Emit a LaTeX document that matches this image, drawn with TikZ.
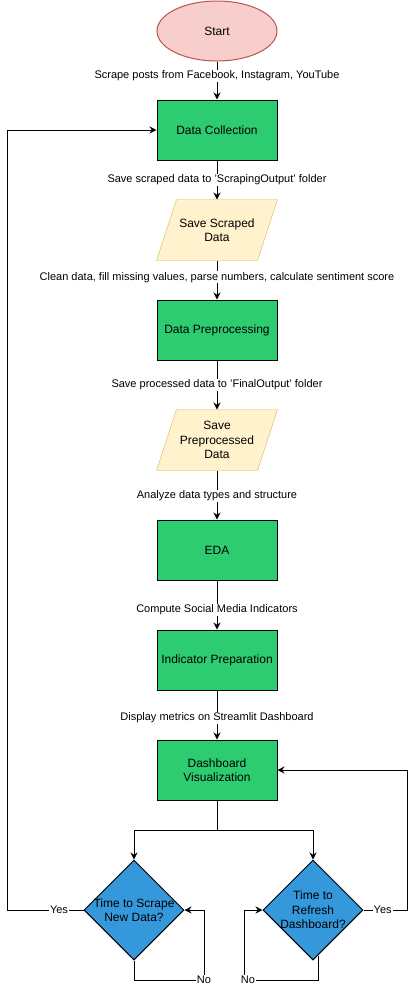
\documentclass[tikz,border=0pt]{standalone}
\usepackage{fontspec}
\setmainfont{Liberation Sans}
\usetikzlibrary{shapes.geometric,arrows.meta,backgrounds}
\definecolor{startfill}{HTML}{F8CECC}
\definecolor{startdraw}{HTML}{B85450}
\definecolor{procfill}{HTML}{2ECC71}
\definecolor{iofill}{HTML}{FFF2CC}
\definecolor{iodraw}{HTML}{D6B656}
\definecolor{decfill}{HTML}{3498DB}
\begin{document}
\begin{tikzpicture}[x=1pt,y=-1pt,
  font=\fontsize{12}{14.5}\selectfont,
  line width=1pt,
  proc/.style={rectangle, draw=black, fill=procfill, minimum width=120pt, minimum height=60pt, align=center, inner sep=2pt},
  iobox/.style={rectangle, minimum width=120pt, minimum height=60pt, align=center, inner sep=2pt},
  iopoly/.style={draw=iodraw, fill=iofill},
  dec/.style={diamond, draw=black, fill=decfill, minimum width=100pt, minimum height=100pt, inner sep=0pt, aspect=1},
  arr/.style={-{Stealth[length=7pt,width=7pt]}},
  lab/.style={fill=white, font=\fontsize{11}{13}\selectfont, inner sep=1pt}
]
\useasboundingbox (0,0) rectangle (416,989);

% nodes
\node[ellipse, draw=startdraw, fill=startfill, minimum width=120pt, minimum height=60pt] (start) at (217,31) {Start};
\node[proc] (dc) at (217,130) {Data Collection};
\node[iobox] (ssd) at (217,230) {Save Scraped\\Data};
\node[proc] (dp) at (217,330) {Data Preprocessing};
\node[iobox] (spd) at (217,440) {Save\\Preprocessed\\Data};
\node[proc] (eda) at (217,550) {EDA};
\node[proc] (ip) at (217,660) {Indicator Preparation};
\node[proc] (dv) at (217,770) {Dashboard\\Visualization};
\node[dec, label={[align=center]center:Time to Scrape\\New Data?}] (d1) at (134,910) {};
\node[dec, label={[align=center]center:Time to\\Refresh\\Dashboard?}] (d2) at (313,910) {};

% parallelograms behind text
\begin{scope}[on background layer]
  \draw[iopoly] (ssd.south west) -- ([xshift=-20pt]ssd.south east) -- (ssd.north east) -- ([xshift=20pt]ssd.north west) -- cycle;
  \draw[iopoly] (spd.south west) -- ([xshift=-20pt]spd.south east) -- (spd.north east) -- ([xshift=20pt]spd.north west) -- cycle;
\end{scope}

% helper coordinates
\coordinate (split) at (217,830);
\coordinate (yesL) at (7,0);
\coordinate (yesR) at (407,0);
\coordinate (noL) at (204,980);
\coordinate (noR) at (244,980);

% main flow
\draw[arr] (start) -- node[lab,pos=0.38]{Scrape posts from Facebook, Instagram, YouTube} (dc);
\draw[arr] (dc) -- node[lab,pos=0.5]{Save scraped data to 'ScrapingOutput' folder} (ssd);
\draw[arr] (ssd) -- node[lab,pos=0.43]{Clean data, fill missing values, parse numbers, calculate sentiment score} (dp);
\draw[arr] (dp) -- node[lab,pos=0.5]{Save processed data to 'FinalOutput' folder} (spd);
\draw[arr] (spd) -- node[lab,pos=0.52]{Analyze data types and structure} (eda);
\draw[arr] (eda) -- node[lab,pos=0.6]{Compute Social Media Indicators} (ip);
\draw[arr] (ip) -- node[lab,pos=0.56]{Display metrics on Streamlit Dashboard} (dv);

% split to decisions
\draw (dv.south) -- (split);
\draw[arr] (split) -| (d1.north);
\draw[arr] (split) -| (d2.north);

% left decision
\draw[arr] (d1.west) -- node[lab,pos=0.32]{Yes} (d1.west -| yesL) |- (dc.west);
\draw[arr] (d1.south) |- node[lab,pos=1]{No} (noL) |- (d1.east);

% right decision
\draw[arr] (d2.east) -- node[lab,pos=0.44]{Yes} (d2.east -| yesR) |- (dv.east);
\draw[arr] ([xshift=5pt,yshift=5pt]d2.south) |- node[lab,pos=0.973]{No} (noR) |- (d2.west);
\end{tikzpicture}
\end{document}
